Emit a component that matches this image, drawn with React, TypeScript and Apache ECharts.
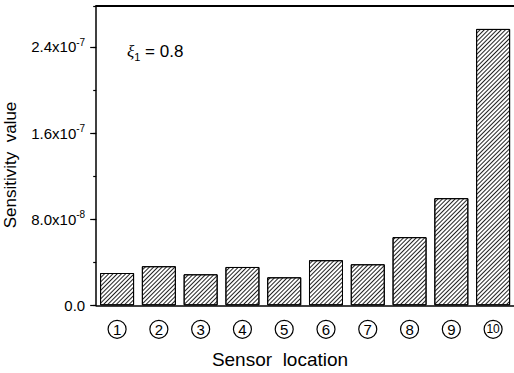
import React, { useEffect, useRef } from "react";
import * as echarts from "echarts";

const categories = ["1", "2", "3", "4", "5", "6", "7", "8", "9", "10"];
const sensitivity = [3.0e-8, 3.63e-8, 2.88e-8, 3.56e-8, 2.6e-8, 4.19e-8, 3.81e-8, 6.33e-8, 9.95e-8, 2.567e-7];
const yTicks = [0, 8e-8, 1.6e-7, 2.4e-7];
const yMax = 2.78e-7;

const FONT = "'Liberation Sans', Arial, sans-serif";

function fmt(v: number): string {
  if (Math.abs(v) < 1e-20) return "0.0";
  const match = yTicks.find((t) => Math.abs(t - v) < 1e-12);
  if (match === undefined) return "";
  const e = Math.floor(Math.log10(match) + 1e-9);
  const m = match / Math.pow(10, e);
  return `${m.toFixed(1)}x10{sup|${e}}`;
}

export default function App() {
  const ref = useRef<HTMLDivElement>(null);
  useEffect(() => {
    if (!ref.current) return;
    const chart = echarts.init(ref.current, undefined, { renderer: "svg" });
    const tickEven = (i: number) => i % 2 === 1;
    const tickOdd = (i: number) => i % 2 === 0;
    const hiddenCat = {
      type: "category",
      data: categories,
      axisLabel: { show: false },
      splitLine: { show: false },
    };
    const circle = {
      width: 18,
      height: 18,
      lineHeight: 18,
      align: "center",
      borderColor: "#000",
      borderWidth: 1.2,
      borderRadius: 10,
      fontSize: 15,
      color: "#000",
      fontFamily: FONT,
    };
    chart.setOption({
      animation: false,
      textStyle: { fontFamily: FONT },
      grid: { left: 96.2, top: 6, width: 419.2, height: 299.3, containLabel: false },
      xAxis: [
        {
          type: "category",
          data: categories,
          position: "bottom",
          axisLine: { lineStyle: { color: "#000", width: 1.5 } },
          axisTick: { alignWithLabel: true, length: 6, interval: tickEven, lineStyle: { color: "#000", width: 1.2 } },
          axisLabel: {
            interval: 0,
            margin: 15,
            color: "#000",
            fontFamily: FONT,
            formatter: (v: string) => (v.length > 1 ? `{d|${v}}` : `{c|${v}}`),
            rich: {
              c: circle,
              d: { ...circle, fontSize: 12 },
            },
          },
          splitLine: { show: false },
        },
        {
          ...hiddenCat,
          position: "bottom",
          axisLine: { show: false },
          axisTick: { alignWithLabel: true, length: 3, interval: tickOdd, lineStyle: { color: "#000", width: 1.2 } },
        },
        {
          ...hiddenCat,
          position: "top",
          axisLine: { lineStyle: { color: "#000", width: 2 } },
          axisTick: { alignWithLabel: true, inside: true, length: 5, interval: tickEven, lineStyle: { color: "#000", width: 1.2 } },
        },
        {
          ...hiddenCat,
          position: "top",
          axisLine: { show: false },
          axisTick: { alignWithLabel: true, inside: true, length: 3, interval: tickOdd, lineStyle: { color: "#000", width: 1.2 } },
        },
      ],
      yAxis: [
        {
          type: "value",
          min: 0,
          max: yMax,
          interval: 8e-8,
          position: "left",
          axisLine: { show: true, lineStyle: { color: "#000", width: 1.5 } },
          axisTick: { show: true, length: 6, lineStyle: { color: "#000", width: 1.2 } },
          splitLine: { show: false },
          axisLabel: {
            margin: 11,
            color: "#000",
            fontSize: 15,
            fontFamily: FONT,
            showMaxLabel: false,
            formatter: (v: number) => fmt(v),
            rich: {
              sup: { fontSize: 10, color: "#000", fontFamily: FONT, padding: [0, 0, 9, 0] },
            },
          },
        },
        {
          type: "value",
          min: 0,
          max: yMax,
          interval: 4e-8,
          position: "left",
          axisLine: { show: false },
          axisTick: { show: true, length: 3, lineStyle: { color: "#000", width: 1.2 } },
          axisLabel: { show: false },
          splitLine: { show: false },
        },
      ],
      graphic: [
        {
          type: "text",
          x: 10,
          y: 165,
          rotation: Math.PI / 2,
          style: {
            text: "Sensitivity  value",
            align: "center",
            verticalAlign: "middle",
            fontSize: 17,
            fontFamily: FONT,
            fill: "#000",
          },
        },
        {
          type: "text",
          x: 280,
          y: 359,
          style: {
            text: "Sensor  location",
            align: "center",
            verticalAlign: "middle",
            fontSize: 19,
            fontFamily: FONT,
            fill: "#000",
          },
        },
        {
          type: "text",
          x: 127,
          y: 51,
          style: {
            text: "{x|ξ}{s|1}{n| = 0.8}",
            verticalAlign: "middle",
            rich: {
              x: { fontSize: 17, fontStyle: "italic", fontFamily: "'Liberation Serif', 'DejaVu Serif', serif", fill: "#000" },
              s: { fontSize: 11, fontFamily: FONT, fill: "#000", padding: [12, 0, 0, 0] },
              n: { fontSize: 17, fontFamily: FONT, fill: "#000" },
            },
          },
        },
      ],
      series: [
        {
          type: "bar",
          xAxisIndex: 0,
          yAxisIndex: 0,
          data: sensitivity,
          barWidth: 34,
          itemStyle: {
            color: "#fff",
            borderColor: "#000",
            borderWidth: 1,
            decal: {
              symbol: "rect",
              color: "#222",
              dashArrayX: [1, 0],
              dashArrayY: [1, 1.5],
              rotation: -Math.PI / 4,
              symbolSize: 1,
            },
          },
        },
      ],
    });
    return () => chart.dispose();
  }, []);
  return <div ref={ref} style={{ position: "absolute", left: 0, top: 0, width: 514, height: 373 }} />;
}
